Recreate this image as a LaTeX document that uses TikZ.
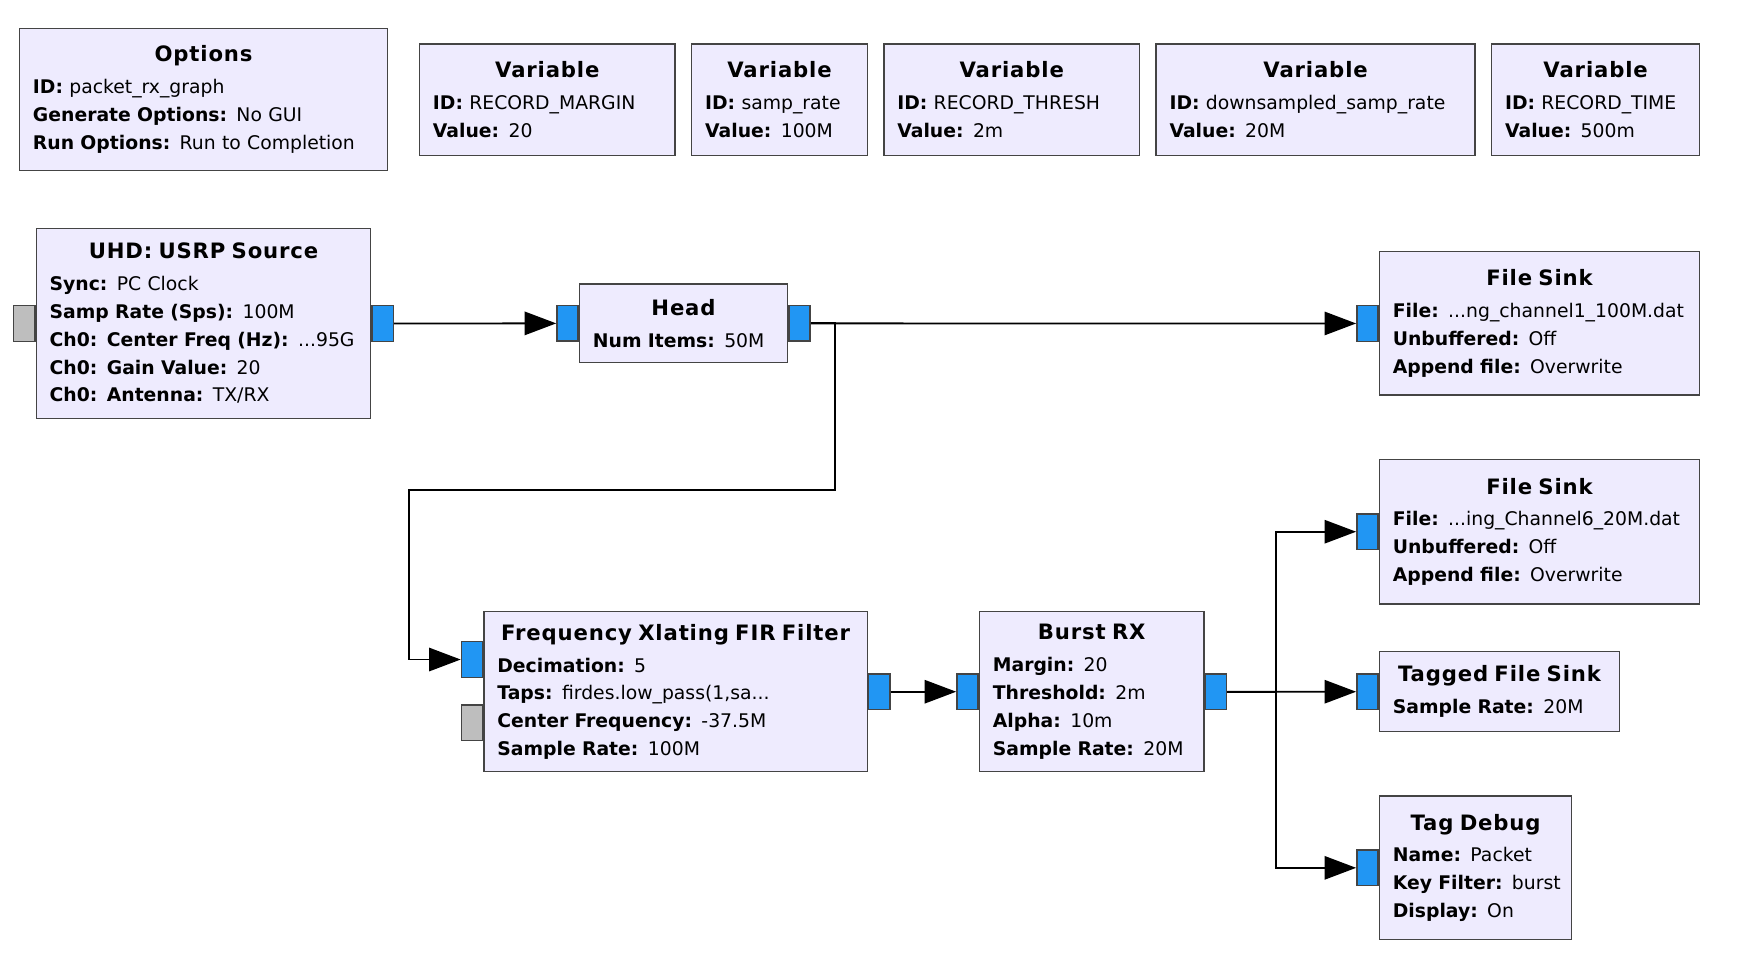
\documentclass[tikz,border=0pt]{standalone}
\usepackage{fontspec}
\setmainfont{DejaVu Sans}
\newfontfamily\blocktitlefont{DejaVu Sans}[LetterSpace=4.0]
\usetikzlibrary{arrows.meta}

\definecolor{blockfill}{RGB}{238,235,254}
\definecolor{blockedge}{RGB}{68,68,68}
\definecolor{portblue}{RGB}{33,150,243}
\definecolor{portgrey}{RGB}{190,190,190}

\newcommand{\blkname}[1]{{\centering\blocktitlefont\bfseries\fontsize{10.6}{14}\selectfont #1\par}\vspace{2pt}}
\newcommand{\prm}[2]{\mbox{\textbf{#1} #2}}

\begin{document}
\begin{tikzpicture}[x=0.5556pt, y=-0.5556pt,
  block/.style={draw=blockedge, fill=blockfill, line width=0.7pt, anchor=north west,
    inner xsep=6.7pt, inner ysep=0pt, align=left, font=\fontsize{9.4}{13.9}\selectfont},
  portin/.style={draw=blockedge, fill=portblue, line width=0.7pt, minimum width=10.6pt,
    minimum height=17.8pt, inner sep=0pt, anchor=east},
  portout/.style={portin, anchor=west},
  portoff/.style={portin, fill=portgrey},
  flow/.style={line width=0.9pt, -{Triangle[length=15.8pt,width=11.7pt]}}]
\useasboundingbox (0,0) rectangle (1568,877);

\node[block, minimum width=183.9pt, text width=170.6pt, minimum height=71.1pt] (options) at (17,25)
  {\blkname{Options}\prm{ID:}{packet\_rx\_graph}\\\prm{Generate Options:}{No GUI}\\\prm{Run Options:}{Run to Completion}};
\node[block, minimum width=127.8pt, text width=114.4pt, minimum height=55.6pt] (var-margin) at (377,39)
  {\blkname{Variable}\prm{ID:}{RECORD\_MARGIN}\\\prm{Value:}{20}};
\node[block, minimum width=87.8pt, text width=74.4pt, minimum height=55.6pt] (var-samp) at (622,39)
  {\blkname{Variable}\prm{ID:}{samp\_rate}\\\prm{Value:}{100M}};
\node[block, minimum width=127.8pt, text width=114.4pt, minimum height=55.6pt] (var-thresh) at (795,39)
  {\blkname{Variable}\prm{ID:}{RECORD\_THRESH}\\\prm{Value:}{2m}};
\node[block, minimum width=159.4pt, text width=146.1pt, minimum height=55.6pt] (var-down) at (1040,39)
  {\blkname{Variable}\prm{ID:}{downsampled\_samp\_rate}\\\prm{Value:}{20M}};
\node[block, minimum width=103.9pt, text width=90.6pt, minimum height=55.6pt] (var-time) at (1342,39)
  {\blkname{Variable}\prm{ID:}{RECORD\_TIME}\\\prm{Value:}{500m}};

\node[block, minimum width=167.2pt, text width=153.9pt, minimum height=95.0pt] (usrp) at (32,205)
  {\blkname{UHD: USRP Source}\prm{Sync:}{PC Clock}\\\prm{Samp Rate (Sps):}{100M}\\\prm{Ch0: Center Freq (Hz):}{...95G}\\\prm{Ch0: Gain Value:}{20}\\\prm{Ch0: Antenna:}{TX/RX}};
\node[block, minimum width=103.9pt, text width=90.6pt, minimum height=39.4pt] (head) at (521,255)
  {\blkname{Head}\prm{Num Items:}{50M}};
\node[block, minimum width=160.0pt, text width=146.7pt, minimum height=71.7pt] (fsink1) at (1241,226)
  {\blkname{File Sink}\prm{File:}{...ng\_channel1\_100M.dat}\\\prm{Unbuffered:}{Off}\\\prm{Append file:}{Overwrite}};
\node[block, minimum width=191.7pt, text width=178.3pt, minimum height=80.0pt] (fir) at (435,550)
  {\blkname{Frequency Xlating FIR Filter}\prm{Decimation:}{5}\\\prm{Taps:}{firdes.low\_pass(1,sa...}\\\prm{Center Frequency:}{-37.5M}\\\prm{Sample Rate:}{100M}};
\node[block, minimum width=112.2pt, text width=98.9pt, minimum height=80.0pt] (burst) at (881,550)
  {\blkname{Burst RX}\prm{Margin:}{20}\\\prm{Threshold:}{2m}\\\prm{Alpha:}{10m}\\\prm{Sample Rate:}{20M}};
\node[block, minimum width=160.0pt, text width=146.7pt, minimum height=72.2pt] (fsink2) at (1241,413)
  {\blkname{File Sink}\prm{File:}{...ing\_Channel6\_20M.dat}\\\prm{Unbuffered:}{Off}\\\prm{Append file:}{Overwrite}};
\node[block, minimum width=120.0pt, text width=106.7pt, minimum height=40.0pt] (tagsink) at (1241,586)
  {\blkname{Tagged File Sink}\prm{Sample Rate:}{20M}};
\node[block, minimum width=96.1pt, text width=82.8pt, minimum height=71.7pt] (tagdbg) at (1241,716)
  {\blkname{Tag Debug}\prm{Name:}{Packet}\\\prm{Key Filter:}{burst}\\\prm{Display:}{On}};

\node[portoff] (usrp-in) at (usrp.west) {};
\node[portout] (usrp-out) at (usrp.east) {};
\node[portin] (head-in) at (head.west) {};
\node[portout] (head-out) at (head.east) {};
\node[portin] (fsink1-in) at (fsink1.west) {};
\node[portin, yshift=16.1pt] (fir-in) at (fir.west) {};
\node[portoff, yshift=-15.6pt] (fir-off) at (fir.west) {};
\node[portout] (fir-out) at (fir.east) {};
\node[portin] (burst-in) at (burst.west) {};
\node[portout] (burst-out) at (burst.east) {};
\node[portin] (fsink2-in) at (fsink2.west) {};
\node[portin] (tagsink-in) at (tagsink.west) {};
\node[portin] (tagdbg-in) at (tagdbg.west) {};

\draw[flow] (usrp-out.east) -- (head-in.west);
\draw[flow] (head-out.east) -- (fsink1-in.west);
\draw[flow] (head-out.east) -- ++(22,0) -- ++(0,150) -- ++(-384,0) |- (fir-in.west);
\draw[flow] (fir-out.east) -- (burst-in.west);
\draw[flow] (burst-out.east) -- (tagsink-in.west);
\draw[flow] (burst-out.east) -- ++(44,0) |- (fsink2-in.west);
\draw[flow] (burst-out.east) -- ++(44,0) |- (tagdbg-in.west);
\end{tikzpicture}
\end{document}
